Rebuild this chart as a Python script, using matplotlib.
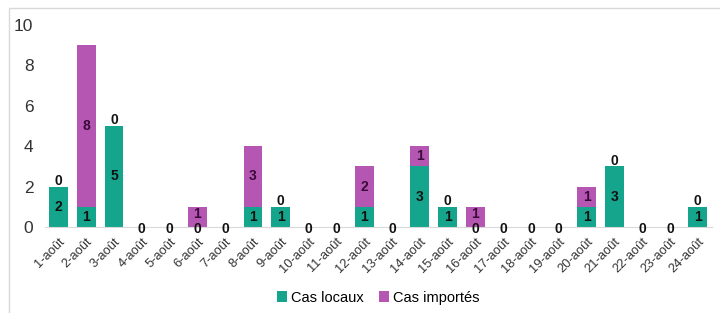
import numpy as np
import matplotlib
matplotlib.use("Agg")
import matplotlib.pyplot as plt
from matplotlib.patches import Rectangle

plt.rcParams['font.family'] = ['Liberation Sans', 'DejaVu Sans']

days = [f"{i}-août" for i in range(1, 25)]
locaux = [2, 1, 5, 0, 0, 0, 0, 1, 1, 0, 0, 1, 0, 3, 1, 0, 0, 0, 0, 1, 3, 0, 0, 1]
importes = [0, 8, 0, 0, 0, 1, 0, 3, 0, 0, 0, 2, 0, 1, 0, 1, 0, 0, 0, 1, 0, 0, 0, 0]

c_loc = '#14a58c'
c_imp = '#b557b2'

fig = plt.figure(figsize=(7.2, 3.13), dpi=100)
ax = fig.add_axes([44.5 / 720, 1 - 227 / 313, (711.7 - 44.5) / 720, (227 - 25) / 313])

# cadre gris autour du graphique
fig.patches.append(Rectangle((9 / 720, -0.05), 1.1, 1 - 8 / 313 + 0.05, transform=fig.transFigure,
                             fill=False, edgecolor='#d9d9d9', linewidth=1))

x = np.arange(len(days))
loc = np.array(locaux)
imp = np.array(importes)
ax.bar(x, loc, width=0.68, color=c_loc, label='Cas locaux')
ax.bar(x, imp, width=0.68, bottom=loc, color=c_imp, label='Cas importés')

for i in range(len(days)):
    # étiquettes cas locaux
    y_loc = loc[i] / 2 if loc[i] > 0 else -0.08
    ax.text(x[i], y_loc, str(loc[i]), ha='center', va='center',
            fontsize=10, fontweight='bold', color='#111111')
    # étiquettes cas importés
    if imp[i] > 0:
        y_imp = loc[i] + imp[i] / 2 if loc[i] > 0 else 0.62
        ax.text(x[i], y_imp, str(imp[i]), ha='center', va='center',
                fontsize=10, fontweight='bold', color='#3a0a3a')
    elif loc[i] > 0:
        ax.text(x[i], loc[i] + 0.28, '0', ha='center', va='center',
                fontsize=10, fontweight='bold', color='#111111')

ax.set_xlim(-0.5, len(days) - 0.5)
ax.set_ylim(0, 10)
ax.set_yticks([0, 2, 4, 6, 8, 10])
ax.tick_params(axis='y', length=0, labelsize=12.5, pad=8, labelcolor='#333333')
ax.set_xticks(x)
ax.set_xticklabels(days, rotation=45, ha='right', rotation_mode='anchor', fontsize=9.3, color='#333333')
ax.tick_params(axis='x', length=0, pad=6)
for s in ['top', 'right', 'left']:
    ax.spines[s].set_visible(False)
ax.spines['bottom'].set_color('#d9d9d9')

ax.legend(loc='center', bbox_to_anchor=(0.5, -0.35), ncol=2, frameon=False, fontsize=10.5,
          handlelength=0.7, handleheight=0.7, handletextpad=0.3, columnspacing=1.0)

fig.savefig('out.png', dpi=100)
